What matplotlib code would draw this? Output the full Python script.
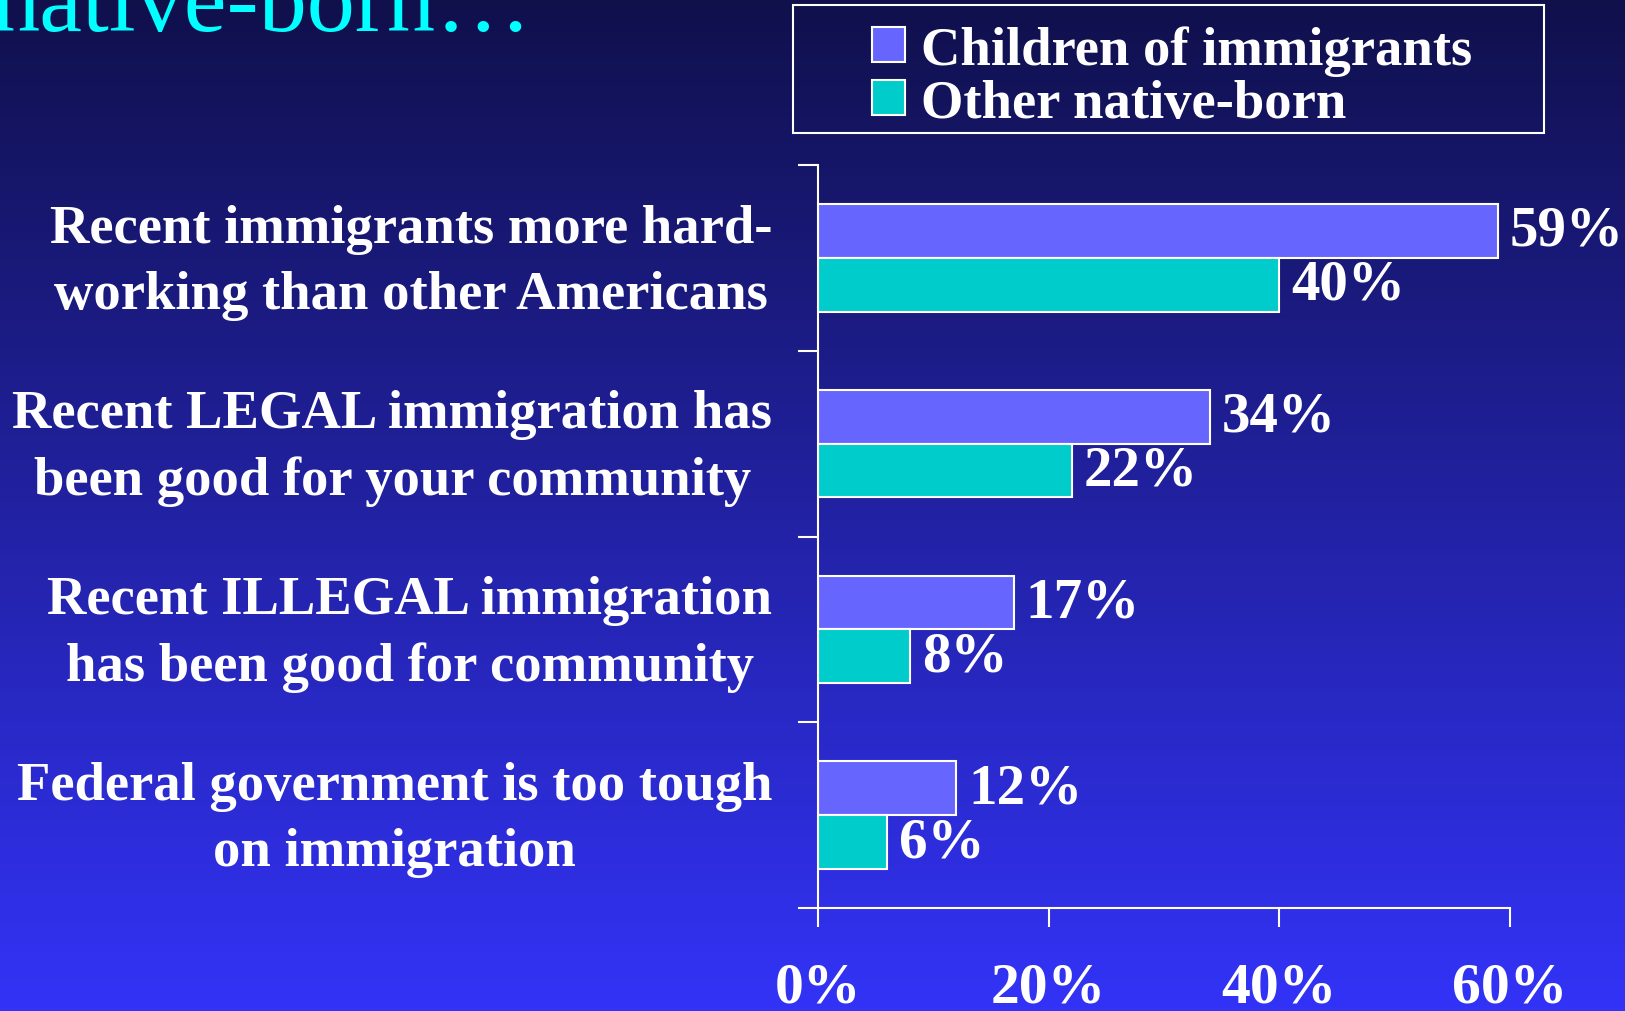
import numpy as np
import matplotlib
matplotlib.use('Agg')
import matplotlib.pyplot as plt
from matplotlib.patches import Patch, Rectangle

# data
categories = ['Recent immigrants more hard-\nworking than other Americans',
              'Recent LEGAL immigration has\nbeen good for your community',
              'Recent ILLEGAL immigration\nhas been good for community',
              'Federal government is too tough\non immigration']
children_vals = [59, 34, 17, 12]
native_vals = [40, 22, 8, 6]
series_names = ['Children of immigrants', 'Other native-born']
xticks = [0, 20, 40, 60]

purple = '#6666FF'
teal = '#00CCCC'
serif = 'Liberation Serif'
W, H = 1625, 1012

fig = plt.figure(figsize=(16.25, 10.12), dpi=100)

#background gradient, dark navy at top to bright blue at bottom
bg = fig.add_axes([0, 0, 1, 1])
top = np.array([0x10, 0x10, 0x4C]) / 255
bot = np.array([0x33, 0x33, 0xF8]) / 255
t = np.linspace(0, 1, 256)[:, None]
grad = top[None, :] * (1 - t) + bot[None, :] * t
bg.imshow(grad[:, None, :], aspect='auto', extent=[0, 1, 0, 1])
bg.set_axis_off()

#title, mostly cut off at the top of the slide
fig.text(-8 / W, 1 - 31 / H, 'native-born\u2026', color='#00FFFF',
         fontsize=69.3, family=serif, ha='left', va='baseline')

ax = fig.add_axes([818 / W, 1 - 909 / H, (1510 - 818) / W, (909 - 166) / H])
ax.patch.set_alpha(0)

y = np.arange(len(categories)) + 0.5
h = 0.29
ax.barh(y - h / 2, children_vals, height=h, color=purple, edgecolor='white', linewidth=1.5)
ax.barh(y + h / 2, native_vals, height=h, color=teal, edgecolor='white', linewidth=1.5)

for yy, v in zip(y - h / 2, children_vals):
    ax.text(v + 1, yy, '%d%%' % v, color='white', fontsize=41, fontweight='bold',
            family=serif, va='center', ha='left')
for yy, v in zip(y + h / 2, native_vals):
    ax.text(v + 1, yy, '%d%%' % v, color='white', fontsize=41, fontweight='bold',
            family=serif, va='center', ha='left')

ax.set_xlim(0, 60)
ax.set_ylim(len(categories), 0)

#category labels: block right aligned, lines centred
for yy, lab in zip(y, categories):
    ax.annotate(lab, xy=(0, yy), xycoords=('axes fraction', 'data'),
                xytext=(-33, -3), textcoords='offset points',
                ha='right', va='center', multialignment='center', linespacing=1.42,
                fontsize=39.3, fontweight='bold', family=serif, color='white')
ax.set_yticks(np.arange(len(categories) + 1))
ax.set_yticklabels([])
ax.tick_params(axis='y', length=14.4, width=1.5, color='white', direction='out')

ax.set_xticks(xticks)
ax.set_xticklabels(['%d%%' % v for v in xticks], fontsize=41.5, fontweight='bold',
                   family=serif, color='white')
ax.tick_params(axis='x', length=13.5, width=1.5, color='white', pad=25)

for s in ['top', 'right']:
    ax.spines[s].set_visible(False)
for s in ['left', 'bottom']:
    ax.spines[s].set_color('white')
    ax.spines[s].set_linewidth(1.5)

#legend box drawn separately, it has much wider side padding than top/bottom
fig.patches.append(Rectangle((793 / W, 1 - 134 / H), (1544 - 793) / W, (134 - 6) / H,
                             transform=fig.transFigure, fill=False,
                             edgecolor='white', linewidth=1.5))
handles = [Patch(facecolor=purple, edgecolor='white', linewidth=1.5),
           Patch(facecolor=teal, edgecolor='white', linewidth=1.5)]
leg = fig.legend(handles, series_names, loc='upper left',
                 bbox_to_anchor=(872 / W, 1 - 26 / H),
                 prop={'family': serif, 'weight': 'bold', 'size': 39.3},
                 frameon=False, handlelength=0.6, handleheight=0.6, handletextpad=0.3,
                 labelspacing=0.06, borderpad=0, borderaxespad=0)
for txt in leg.get_texts():
    txt.set_color('white')

plt.savefig('out.png', dpi=100)
